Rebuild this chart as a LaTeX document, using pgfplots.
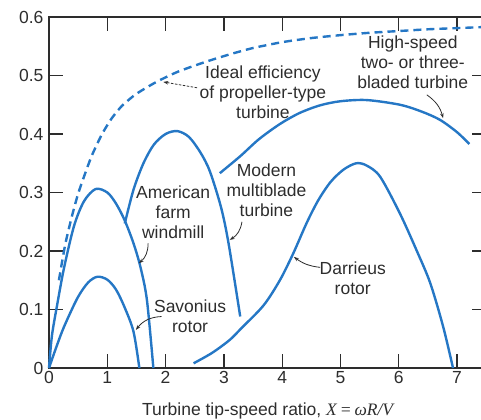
\documentclass[border=0pt]{standalone}
\usepackage{pgfplots}
\pgfplotsset{compat=1.18}
\usepackage{fontspec}
\setmainfont{Liberation Sans}
\newfontfamily\tnr{Liberation Serif}
\usetikzlibrary{arrows.meta}
\definecolor{curve}{RGB}{37,119,197}
\definecolor{ink}{RGB}{45,45,45}
\newcommand\fs{\fontsize{17.5bp}{20bp}\selectfont}
\begin{document}
\begin{tikzpicture}
\path[use as bounding box] (-49bp,-52bp) rectangle (432bp,368bp);
\begin{axis}[
  at={(0,0)}, anchor=south west,
  scale only axis,
  width=437.25bp, height=351bp,
  xmin=0, xmax=7.5, ymin=0, ymax=0.6,
  xtick={0,1,...,7},
  ytick={0,0.1,0.2,0.3,0.4,0.5,0.6},
  yticklabels={0,0.1,0.2,0.3,0.4,0.5,0.6},
  tick align=inside,
  major tick length=14bp,
  axis line style={ink, line width=1.3bp},
  every tick/.style={ink, line width=1.3bp},
  /pgf/number format/assume math mode=true,
  tick label style={font=\fs, text=ink},
  yticklabel style={xshift=-2bp},
  xlabel={Turbine tip-speed ratio, {\tnr\itshape X\,=\,ωR/V}},
  xlabel style={font=\fs, text=ink, yshift=-12bp},
  clip=false,
]
% ideal efficiency of a propeller-type turbine
\addplot[curve, line width=2.4bp, dash pattern=on 8bp off 5bp, smooth, tension=0.4] coordinates {
 (0.17,0.15) (0.28,0.212) (0.4,0.262) (0.5,0.298) (0.6,0.327) (0.73,0.362) (0.9,0.398)
 (1.07,0.426) (1.25,0.448) (1.475,0.467) (1.7,0.481) (1.9,0.492) (2.2,0.506)
 (2.5,0.517) (2.8,0.527) (3.13,0.537) (3.5,0.547) (4.0,0.557) (4.5,0.564)
 (5.0,0.569) (5.5,0.573) (6.0,0.576) (6.5,0.579) (7.0,0.581) (7.5,0.583)};
% American farm windmill
\addplot[curve, line width=2.4bp, smooth, tension=0.5] coordinates {
 (0,0) (0.05,0.055) (0.14,0.108) (0.26,0.172) (0.43,0.243) (0.6,0.285)
 (0.8,0.306) (1.0,0.30) (1.15,0.281) (1.3,0.252) (1.45,0.213) (1.57,0.172)
 (1.68,0.116) (1.79,0.0)};
% Savonius rotor
\addplot[curve, line width=2.4bp, smooth, tension=0.5] coordinates {
 (0,0) (0.13,0.037) (0.26,0.071) (0.49,0.12) (0.67,0.146) (0.83,0.156)
 (1.0,0.151) (1.15,0.134) (1.3,0.103) (1.45,0.062) (1.55,0)};
% Modern multiblade turbine
\addplot[curve, line width=2.4bp, smooth, tension=0.5] coordinates {
 (1.30,0.247) (1.45,0.305) (1.62,0.35) (1.8,0.382) (2.0,0.40) (2.2,0.405)
 (2.4,0.395) (2.6,0.368) (2.76,0.336) (2.95,0.275) (3.08,0.213) (3.28,0.088)};
% High-speed two- or three-bladed turbine
\addplot[curve, line width=2.4bp, smooth, tension=0.5] coordinates {
 (2.93,0.333) (3.28,0.362) (3.6,0.391) (3.96,0.417) (4.3,0.436) (4.65,0.449)
 (5.0,0.456) (5.45,0.458) (6.02,0.45) (6.4,0.438) (6.71,0.424) (7.0,0.403)
 (7.21,0.383)};
% Darrieus rotor
\addplot[curve, line width=2.4bp, smooth, tension=0.5] coordinates {
 (2.48,0.008) (2.8,0.026) (3.1,0.048) (3.3,0.068) (3.68,0.107) (3.96,0.150)
 (4.19,0.196) (4.42,0.248) (4.62,0.287) (4.83,0.318) (5.05,0.339) (5.27,0.35)
 (5.45,0.346) (5.68,0.327) (6.02,0.264) (6.31,0.2) (6.54,0.145) (6.76,0.071)
 (6.93,0)};

% annotations
\begin{scope}[every node/.style={font=\fs, text=ink, align=center, inner sep=0pt}]
\node at (axis cs:3.67,0.472) {Ideal efficiency\\of propeller-type\\turbine};
\node at (axis cs:6.24,0.523) {High-speed\\two- or three-\\bladed turbine};
\node at (axis cs:2.13,0.267) {American\\farm\\windmill};
\node at (axis cs:3.73,0.304) {Modern\\multiblade\\turbine};
\node at (axis cs:5.21,0.154) {Darrieus\\rotor};
\node at (axis cs:2.42,0.089) {Savonius\\rotor};
\end{scope}
\begin{scope}[ink, line width=0.8bp, -{Stealth[length=5bp,width=3.5bp]}]
\draw[dash pattern=on 2.5bp off 1.5bp] (axis cs:2.54,0.479) -- (axis cs:1.96,0.489);
\draw (axis cs:6.48,0.467) to[bend left=20] (axis cs:6.76,0.427);
\draw (axis cs:1.70,0.213) to[bend left=25] (axis cs:1.54,0.179);
\draw (axis cs:3.31,0.250) to[bend left=25] (axis cs:3.10,0.219);
\draw (axis cs:4.65,0.172) to[bend left=15] (axis cs:4.20,0.19);
\draw (axis cs:1.93,0.088) to[bend right=25] (axis cs:1.49,0.065);
\end{scope}
\end{axis}
\end{tikzpicture}
\end{document}
